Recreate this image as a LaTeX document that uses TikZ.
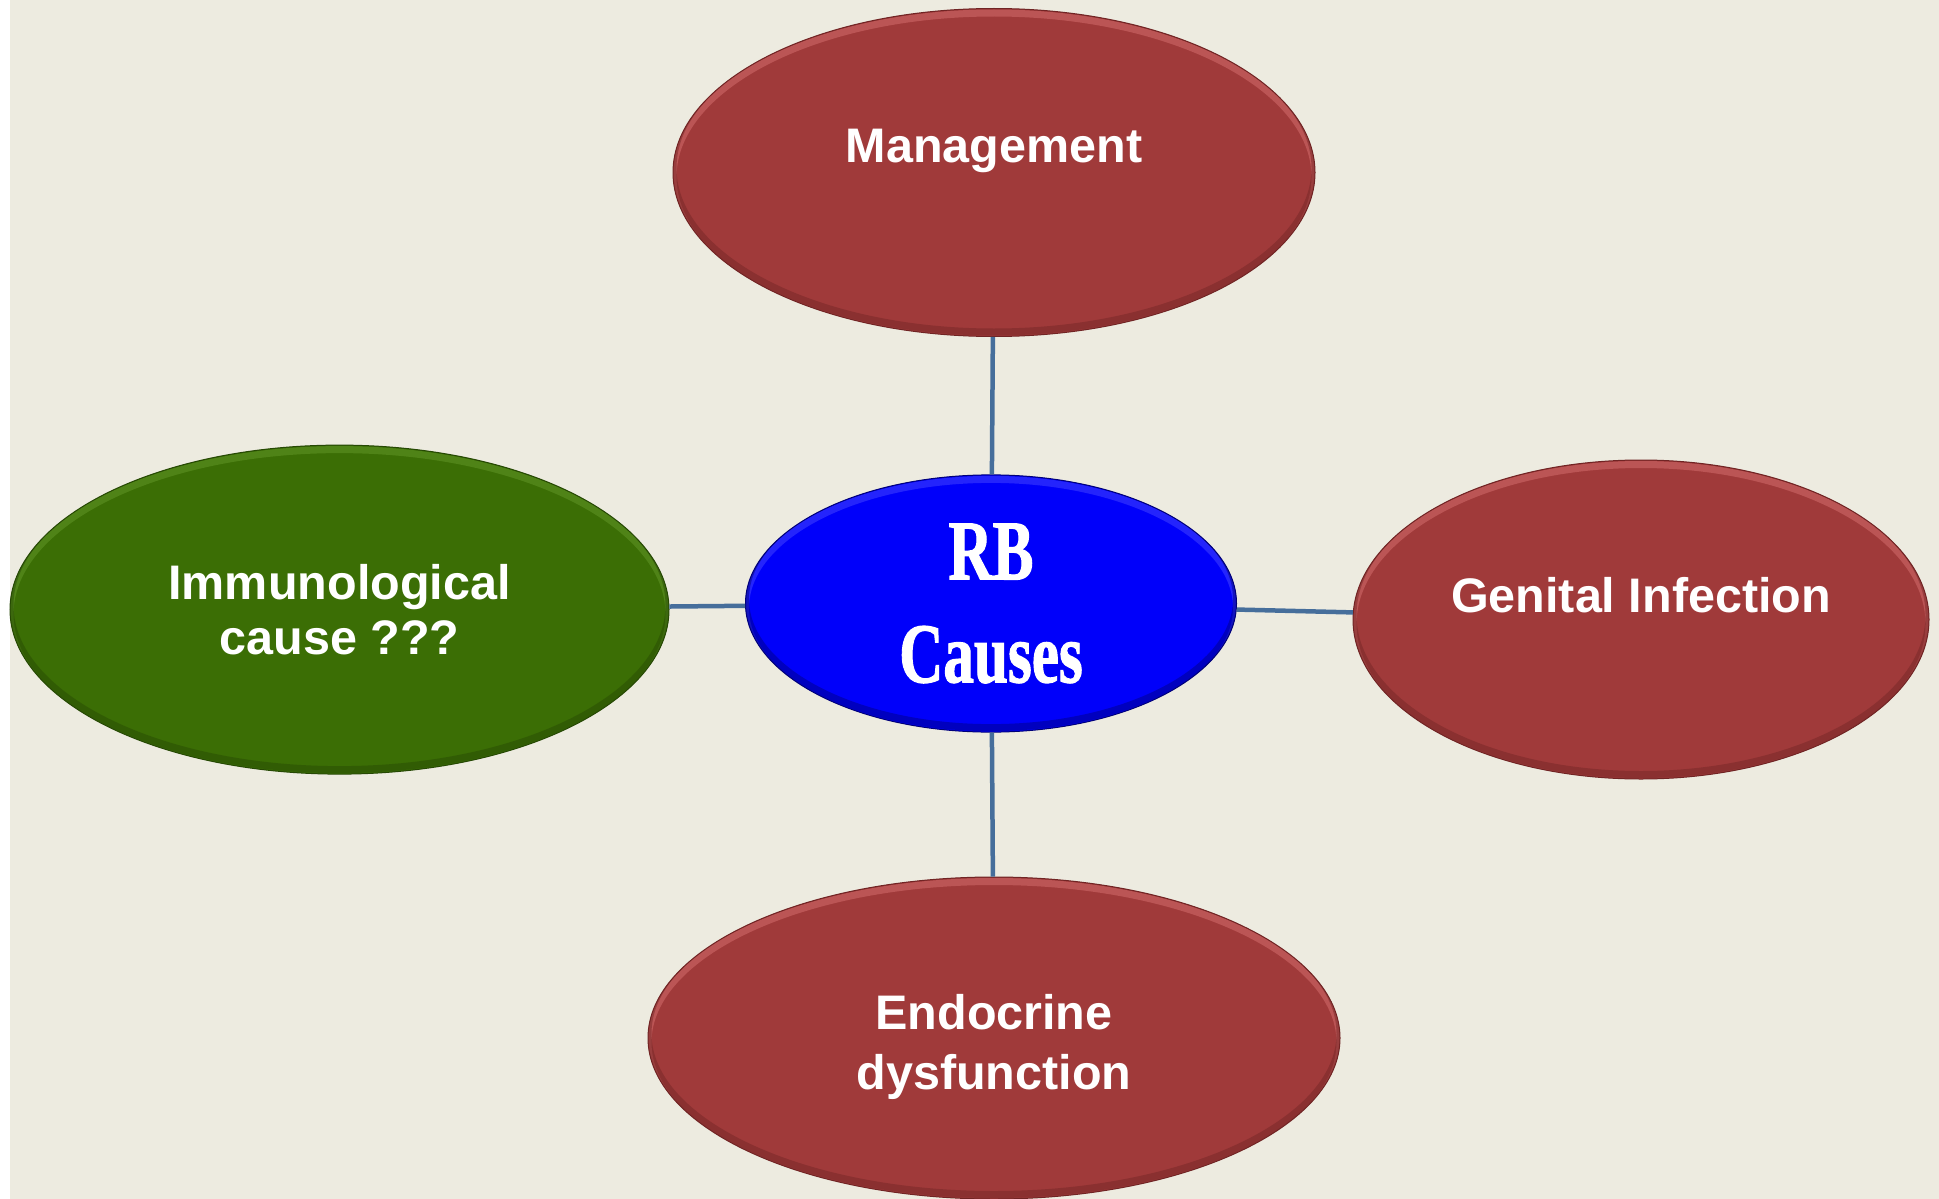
\documentclass[tikz,border=0pt]{standalone}
\usepackage{graphicx}
\usepackage{fontspec}
\setmainfont{Liberation Sans}
\newfontfamily\rbfont{Liberation Serif}[BoldFeatures={FakeBold=1.5}]
\usetikzlibrary{shapes.geometric}
\definecolor{bgc}{RGB}{237,235,224}
\definecolor{redf}{RGB}{160,58,58}
\definecolor{redd}{RGB}{112,36,36}
\definecolor{redl}{RGB}{222,118,118}
\definecolor{greenf}{RGB}{59,110,5}
\definecolor{greend}{RGB}{38,72,4}
\definecolor{greenl}{RGB}{105,158,45}
\definecolor{bluef}{RGB}{0,0,250}
\definecolor{blued}{RGB}{0,0,120}
\definecolor{bluel}{RGB}{80,80,255}
\definecolor{linkc}{RGB}{70,110,155}
\tikzset{
  bub/.style n args={5}{ellipse, inner sep=0pt, fill=#1, draw=#2, line width=1pt,
    minimum width=2*#4, minimum height=2*#5, text=white,
    path picture={
      \draw[#3, line width=7pt, opacity=0.45] ([yshift=-4.5pt]path picture bounding box.center) ellipse [x radius=#4, y radius=#5];
      \draw[#2, line width=7pt, opacity=0.45] ([yshift=4.5pt]path picture bounding box.center) ellipse [x radius=#4, y radius=#5];
    }},
  txt/.style={text=white, font=\bfseries\fontsize{48.5}{56}\selectfont, align=center},
  link/.style={draw=linkc, line width=4.5pt}
}
\begin{document}
\begin{tikzpicture}[x=1pt,y=-1pt]
\fill[white] (0,0) rectangle (1939,1199);
\fill[bgc] (10,0) rectangle (1939,1199);
\useasboundingbox (0,0) rectangle (1939,1199);

\node[bub={redf}{redd}{redl}{321pt}{164pt},
      label={[txt, yshift=22pt]center:Management}] (mgmt) at (994,172.5) {};
\node[bub={redf}{redd}{redl}{288pt}{159.5pt},
      label={[txt, yshift=24pt]center:Genital Infection}] (gen) at (1641,619.5) {};
\node[bub={greenf}{greend}{greenl}{329.5pt}{164.5pt}, txt,
      font=\bfseries\fontsize{48.5}{54.5}\selectfont] (imm) at (339.5,609.6) {Immunological\\cause ???};
\node[bub={redf}{redd}{redl}{346pt}{161pt},
      label={[txt, font=\bfseries\fontsize{48.5}{59.5}\selectfont, yshift=-9pt]center:Endocrine\\dysfunction}] (endo) at (994,1038) {};
\node[bub={bluef}{blued}{bluel}{245.5pt}{128.6pt}, text=white, align=center,
      font=\rbfont\bfseries\fontsize{85}{103}\selectfont] (rb) at (991,603.5)
      {\scalebox{0.72}[1]{RB}\\\scalebox{0.72}[1]{Causes}};

\draw[link] (mgmt) -- (rb);
\draw[link] (imm) -- (rb);
\draw[link] (rb) -- (gen);
\draw[link] (rb) -- (endo);
\end{tikzpicture}
\end{document}
